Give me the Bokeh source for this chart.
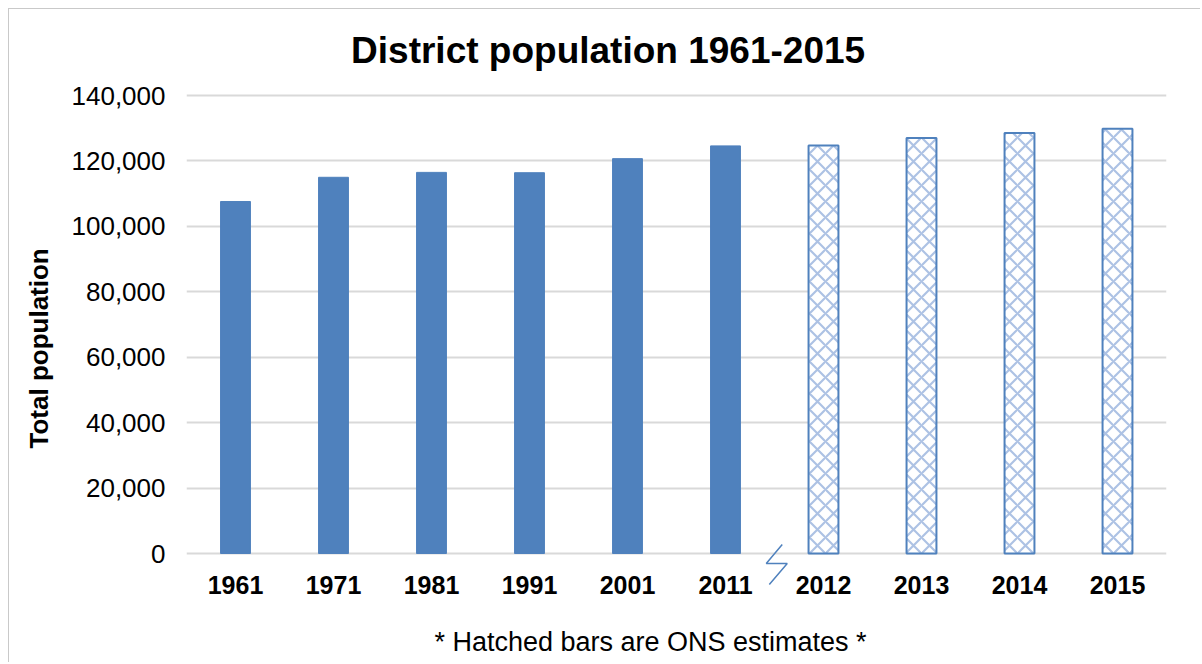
from bokeh.plotting import figure
from bokeh.models import (ColumnDataSource, FactorRange, Range1d, NumeralTickFormatter,
                          FixedTicker, Label, Title)
from bokeh.embed import file_html
from bokeh.resources import INLINE

# ---- data ----
census_years = ["1961", "1971", "1981", "1991", "2001", "2011"]
census_population = [107600, 115000, 116500, 116400, 120700, 124600]
estimate_years = ["2012", "2013", "2014", "2015"]
estimate_population = [124700, 127000, 128500, 129800]
y_ticks = [0, 20000, 40000, 60000, 80000, 100000, 120000, 140000]
title_text = "District population 1961-2015"
y_label_text = "Total population"
note_text = "* Hatched bars are ONS estimates *"

FONT = "Liberation Sans"
BLUE = "#4f81bd"
GRID = "#d9d9d9"

# ---- layout (canvas pixels) ----
W, H = 1192, 654
FRAME_LEFT, FRAME_RIGHT = 176, 1157
ZERO_PX, TOP_TICK_PX = 544, 86            # canvas y of 0 and of the top tick
ypx = y_ticks[-1] / (ZERO_PX - TOP_TICK_PX)  # data units per pixel
y_lo = -(H - ZERO_PX) * ypx
y_hi = y_ticks[-1] + TOP_TICK_PX * ypx

all_years = census_years + estimate_years

p = figure(width=W, height=H,
           x_range=FactorRange(factors=all_years, range_padding=0),
           y_range=Range1d(y_lo, y_hi),
           x_axis_location=None,
           output_backend="svg", toolbar_location=None,
           min_border_left=FRAME_LEFT, min_border_right=W - FRAME_RIGHT,
           min_border_top=0, min_border_bottom=0)
p.styles = {"margin-left": "8px", "margin-top": "8px",
            "border-left": "1px solid #c9c9c9", "border-top": "1px solid #c9c9c9"}

p.outline_line_color = None
p.background_fill_color = "white"
p.border_fill_color = "white"

# bars
src_c = ColumnDataSource(dict(x=census_years, top=census_population))
src_e = ColumnDataSource(dict(x=estimate_years, top=estimate_population))
p.vbar(x="x", top="top", width=0.305, source=src_c, fill_color=BLUE, line_color=BLUE, line_width=1)
p.vbar(x="x", top="top", width=0.305, source=src_e, fill_color="white",
       line_color=BLUE, line_width=2, hatch_pattern="x", hatch_color="#adc2e4",
       hatch_scale=16, hatch_weight=2.2)

# grid (the 0 line doubles as the category axis line)
p.xgrid.grid_line_color = None
p.ygrid.ticker = FixedTicker(ticks=y_ticks)
p.ygrid.grid_line_color = GRID
p.ygrid.grid_line_width = 2

# y axis
p.yaxis.ticker = FixedTicker(ticks=y_ticks)
p.yaxis.formatter = NumeralTickFormatter(format="0,0")
p.yaxis.axis_line_color = None
p.yaxis.major_tick_line_color = None
p.yaxis.minor_tick_line_color = None
p.yaxis.major_tick_out = 0
p.yaxis.major_tick_in = 0
p.yaxis.minor_tick_out = 0
p.yaxis.major_label_text_font = FONT
p.yaxis.major_label_text_font_size = "26px"
p.yaxis.major_label_text_color = "black"
p.yaxis.major_label_standoff = 21

p.add_layout(Title(text=y_label_text, align="left", offset=215,
                   vertical_align="middle", standoff=27,
                   text_font=FONT, text_font_size="26px", text_font_style="bold",
                   text_color="black"), "left")

# category labels
p.text(x=all_years, y=[-31.5 * ypx] * len(all_years), text=all_years,
       text_align="center", text_baseline="middle",
       text_font={"value": FONT}, text_font_size={"value": "25px"},
       text_font_style="bold", text_color="black")

# chart title
p.add_layout(Label(x=4.302, y=(ZERO_PX - 41) * ypx, text=title_text,
                   text_align="center", text_baseline="middle",
                   text_font=FONT, text_font_size="37px", text_font_style="bold",
                   text_color="black"))

# footnote
p.add_layout(Label(x=4.735, y=-88 * ypx, text=note_text,
                   text_align="center", text_baseline="middle",
                   text_font=FONT, text_font_size="27px", text_color="black"))

# axis break symbol between 2011 and 2012
p.line(x=[6.079, 5.916, 6.130, 5.947],
       y=[9 * ypx, -10 * ypx, -10 * ypx, -31 * ypx],
       line_color=BLUE, line_width=1.5)

open("out.html", "w").write(file_html(p, INLINE))
